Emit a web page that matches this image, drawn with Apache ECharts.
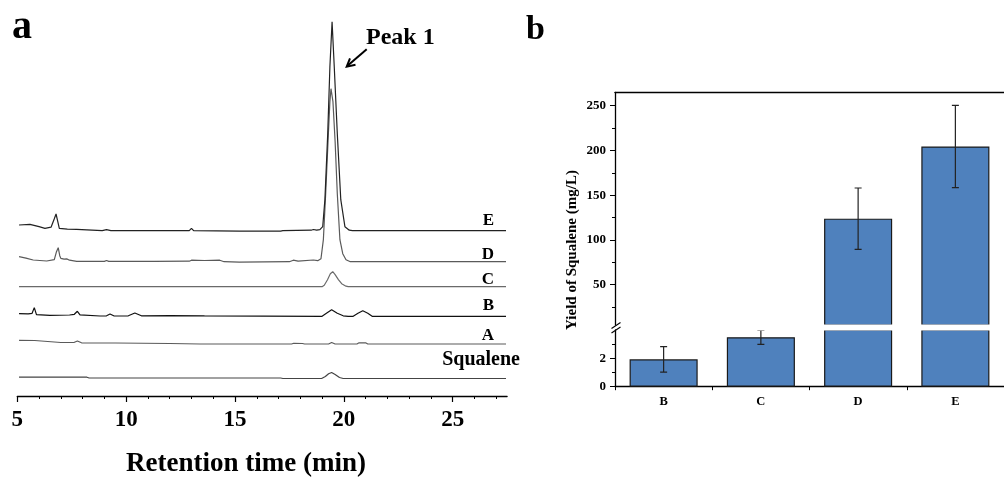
<!DOCTYPE html>
<html><head><meta charset="utf-8">
<script src="https://cdn.jsdelivr.net/npm/echarts@6/dist/echarts.min.js"></script>
<style>html,body{margin:0;padding:0;background:#fff}#c{width:1004px;height:477px}</style>
</head><body><div id="c"></div>
<script>
// ---------- Panel a data (retention time [min], detector signal [a.u.]) ----------
const xTickLabels = [5, 10, 15, 20, 25];
const xMinorTicks = [6,7,8,9,11,12,13,14,16,17,18,19,21,22,23,24,26,27];
const traceNames = ['Squalene', 'A', 'B', 'C', 'D', 'E'];
const traceSqualene = [[5.08,1.3],[8.2,1.3],[8.3,0.5],[17.1,0.5],[17.2,0],[18.98,0],[19.15,2],[19.3,4.8],[19.44,6],[19.6,4],[19.8,1],[19.97,0],[27.45,0]];
const traceA = [[5.08,3.7],[5.8,3.5],[6.4,2.5],[7.0,1.5],[7.6,1.5],[7.76,3],[7.95,1.2],[9.5,1],[12.0,0.5],[13.4,0],[14.2,0],[14.25,-0.5],[14.3,0],[17.6,0],[17.7,0.7],[18.1,0.5],[18.2,0],[19.3,0],[19.44,1.5],[19.6,0],[20.6,0],[20.7,1.2],[21.0,1.2],[21.1,0],[27.45,0]];
const traceB = [[5.08,2.7],[5.5,2.5],[5.68,3],[5.78,8.7],[5.88,1.7],[6.5,1],[7.4,1.3],[7.62,2],[7.76,5],[7.88,1.5],[8.8,0.3],[9.1,0.5],[9.26,2.3],[9.45,0.3],[10.1,0.5],[10.4,3.3],[10.7,0.5],[12.0,0.7],[13.6,0.5],[13.65,0],[19.0,0],[19.2,3],[19.44,6.5],[19.7,3],[19.97,0.5],[20.2,0],[20.43,0],[20.65,3],[20.87,5.5],[21.1,3],[21.3,0],[27.45,0]];
const traceC = [[5.08,0],[19.0,0],[19.1,1.5],[19.25,7],[19.38,13],[19.49,15],[19.6,12],[19.75,7],[19.9,3],[20.1,0.5],[20.2,0],[27.45,0]];
const traceD = [[5.08,5],[5.4,3.5],[5.73,1.7],[6.35,0.7],[6.7,2],[6.8,10],[6.88,14],[6.95,6],[7.0,3.3],[7.15,2.5],[7.27,2.8],[7.4,1.5],[7.73,0.3],[9.0,0.3],[9.1,1.2],[9.2,0.3],[11.2,0.3],[11.24,-0.5],[11.3,0.3],[12.9,0.5],[13.0,1.5],[13.6,1.2],[14.3,1.5],[14.5,0],[15.2,-0.5],[17.5,0],[17.68,1.5],[17.9,0.5],[18.6,1.7],[18.8,1.0],[18.95,3],[19.06,22],[19.17,70],[19.29,128],[19.36,160],[19.41,173],[19.5,160],[19.6,120],[19.7,68],[19.82,22],[19.95,8],[20.1,2],[20.3,0],[27.45,0]];
const traceE = [[5.08,5.7],[5.58,6.3],[6.0,4],[6.27,2.3],[6.55,3.5],[6.7,12],[6.78,16.7],[6.86,9],[6.93,2.3],[7.3,1.6],[7.73,1.3],[8.9,0],[9.1,1],[9.3,0],[12.9,0],[13.0,2.4],[13.1,0],[15.2,-0.4],[17.1,-0.4],[17.2,0],[18.5,0.5],[18.6,1.2],[18.75,0.5],[18.9,1],[18.98,1.5],[19.03,4],[19.13,31],[19.26,97],[19.36,164],[19.46,209],[19.56,164],[19.70,97],[19.86,31],[20.05,4],[20.25,0.5],[20.4,0],[27.45,0]];

// ---------- Panel b data ----------
const categories = ['B', 'C', 'D', 'E'];
const yieldMean = [1.93, 3.49, 123.8, 204.5];
const yieldErr = [0.9, 0.5, 34.3, 46];
const upperTickLabels = [50, 100, 150, 200, 250];
const upperMinorTicks = [25, 75, 125, 175, 225];
const lowerTickLabels = [0, 2];
const lowerMinorTicks = [1, 3];

// ---------- layout / style (not data) ----------
const traceOffsets = [17.5, 52, 79.7, 109.3, 134.3, 165.3]; // vertical stacking of traces
const traceColors = ['#444', '#5a5a5a', '#111', '#6a6a6a', '#5a5a5a', '#222'];
const FONT = '"Liberation Serif","Times New Roman",serif';
const traces = [traceSqualene, traceA, traceB, traceC, traceD, traceE];

const LOWER_MAX = 4, UPPER_MIN = 5, UPPER_MAX = 265;
const gA = {left: 17.3, top: 16, width: 489.8, height: 380};
const gU = {left: 615, top: 92.3, width: 400, height: 232.7};
const gL = {left: 615, top: 330, width: 400, height: 56.7};

const chart = echarts.init(document.getElementById('c'), null, {renderer: 'canvas'});

const lineSeries = traces.map((tr, i) => ({
  type: 'line', xAxisIndex: 0, yAxisIndex: 0, showSymbol: false, silent: true,
  data: tr.map(p => [p[0], p[1] + traceOffsets[i]]),
  lineStyle: {color: traceColors[i], width: 1.2}, z: 2 + (i % 2)
}));

const barStyle = {color: '#4F81BD', borderColor: '#1a1a1a', borderWidth: 1.2};
const errAll = categories.map((c, i) => [i, yieldMean[i] - yieldErr[i], yieldMean[i] + yieldErr[i], yieldMean[i]]);
function errRender(params, api) {
  const x = api.value(0);
  const pLo = api.coord([x, api.value(1)]);
  const pHi = api.coord([x, api.value(2)]);
  const hw = 3.5;
  const st = {stroke: '#222', lineWidth: 1.2};
  return {type: 'group', children: [
    {type: 'line', shape: {x1: pLo[0], y1: pLo[1], x2: pHi[0], y2: pHi[1]}, style: st},
    {type: 'line', shape: {x1: pLo[0]-hw, y1: pLo[1], x2: pLo[0]+hw, y2: pLo[1]}, style: st},
    {type: 'line', shape: {x1: pHi[0]-hw, y1: pHi[1], x2: pHi[0]+hw, y2: pHi[1]}, style: st}
  ]};
}

const labelRightX = 494;
const traceLabelGraphics = [
  {x: 520, y: 359.4, s: 20},
  {x: labelRightX, y: 336.1, s: 17},
  {x: labelRightX, y: 306.1, s: 17},
  {x: labelRightX, y: 279.7, s: 17},
  {x: labelRightX, y: 254.9, s: 17},
  {x: labelRightX, y: 220.4, s: 17}
].map((o, i) => ({type: 'text', x: o.x, y: o.y, style: {text: traceNames[i], font: 'bold ' + o.s + 'px ' + FONT, fill: '#000', align: 'right', verticalAlign: 'middle'}}));

const axisTextStyle = (size) => ({color: '#000', fontFamily: FONT, fontWeight: 'bold', fontSize: size});

chart.setOption({
  animation: false,
  backgroundColor: '#fff',
  grid: [
    Object.assign({}, gA),
    Object.assign({}, gU),
    Object.assign({}, gL)
  ],
  xAxis: [
    {type: 'value', gridIndex: 0, min: 5, max: 27.5, position: 'bottom',
      axisLine: {show: true, lineStyle: {color: '#000', width: 1.3}},
      axisTick: {show: true, customValues: xTickLabels, length: 6, lineStyle: {color: '#000', width: 1.2}},
      axisLabel: {customValues: xTickLabels, margin: 13, ...axisTextStyle(23)},
      splitLine: {show: false}},
    {type: 'value', gridIndex: 0, min: 5, max: 27.5, position: 'bottom',
      axisLine: {show: false}, axisLabel: {show: false},
      axisTick: {show: true, customValues: xMinorTicks, length: 3, lineStyle: {color: '#000', width: 1}},
      splitLine: {show: false}},
    {type: 'category', gridIndex: 1, data: categories, position: 'top',
      axisLine: {show: true, lineStyle: {color: '#000', width: 1.3}},
      axisTick: {show: false}, axisLabel: {show: false}, splitLine: {show: false}},
    {type: 'category', gridIndex: 2, data: categories, position: 'bottom',
      axisLine: {show: true, lineStyle: {color: '#000', width: 1.3}},
      axisTick: {show: true, alignWithLabel: false, length: 3.5, lineStyle: {color: '#000'}},
      axisLabel: {margin: 9, ...axisTextStyle(12.5)}, splitLine: {show: false}}
  ],
  yAxis: [
    {type: 'value', gridIndex: 0, min: 0, max: 380, show: false, splitLine: {show: false}},
    {type: 'value', gridIndex: 1, min: UPPER_MIN, max: UPPER_MAX, position: 'left',
      axisLine: {show: true, lineStyle: {color: '#000', width: 1.3}},
      axisTick: {show: true, customValues: upperTickLabels, length: 5, lineStyle: {color: '#000'}},
      axisLabel: {customValues: upperTickLabels, margin: 9, ...axisTextStyle(13)},
      splitLine: {show: false}},
    {type: 'value', gridIndex: 1, min: UPPER_MIN, max: UPPER_MAX, position: 'left',
      axisLine: {show: false}, axisLabel: {show: false},
      axisTick: {show: true, customValues: upperMinorTicks, length: 3, lineStyle: {color: '#000'}},
      splitLine: {show: false}},
    {type: 'value', gridIndex: 2, min: 0, max: LOWER_MAX, position: 'left',
      axisLine: {show: true, lineStyle: {color: '#000', width: 1.3}},
      axisTick: {show: true, customValues: lowerTickLabels, length: 5, lineStyle: {color: '#000'}},
      axisLabel: {customValues: lowerTickLabels, margin: 9, ...axisTextStyle(13)},
      splitLine: {show: false}},
    {type: 'value', gridIndex: 2, min: 0, max: LOWER_MAX, position: 'left',
      axisLine: {show: false}, axisLabel: {show: false},
      axisTick: {show: true, customValues: lowerMinorTicks, length: 3, lineStyle: {color: '#000'}},
      splitLine: {show: false}}
  ],
  series: [
    ...lineSeries,
    {type: 'bar', xAxisIndex: 2, yAxisIndex: 1, data: yieldMean, barWidth: '70%', itemStyle: barStyle, clip: true, silent: true},
    {type: 'bar', xAxisIndex: 3, yAxisIndex: 3, data: yieldMean, barWidth: '70%', itemStyle: barStyle, clip: true, silent: true},
    {type: 'custom', xAxisIndex: 2, yAxisIndex: 1, clip: true, renderItem: errRender, z: 5,
      data: errAll.filter(d => d[3] > LOWER_MAX)},
    {type: 'custom', xAxisIndex: 3, yAxisIndex: 3, clip: true, renderItem: errRender, z: 5,
      data: errAll.filter(d => d[3] <= LOWER_MAX)}
  ],
  graphic: [
    {type: 'text', x: 12, y: 28.1, style: {text: 'a', font: 'bold 40px ' + FONT, fill: '#000', align: 'left', verticalAlign: 'middle'}},
    {type: 'text', x: 526, y: 29.8, style: {text: 'b', font: 'bold 34px ' + FONT, fill: '#000', align: 'left', verticalAlign: 'middle'}},
    {type: 'text', x: 366, y: 38, style: {text: 'Peak 1', font: 'bold 24px ' + FONT, fill: '#000', align: 'left', verticalAlign: 'middle'}},
    {type: 'line', shape: {x1: 366.7, y1: 49.3, x2: 347.5, y2: 65.8}, style: {stroke: '#000', lineWidth: 2}},
    {type: 'polyline', shape: {points: [[350, 58.3], [346.7, 66.7], [355.5, 64.8]]}, style: {stroke: '#000', lineWidth: 2, fill: null}},
    ...traceLabelGraphics,
    {type: 'text', x: 246, y: 464, style: {text: 'Retention time (min)', font: 'bold 27px ' + FONT, fill: '#000', align: 'center', verticalAlign: 'middle'}},
    {type: 'text', x: 572, y: 250, rotation: Math.PI / 2, style: {text: 'Yield of Squalene (mg/L)', font: 'bold 15px ' + FONT, fill: '#000', align: 'center', verticalAlign: 'middle'}},
    {type: 'rect', z: 100, shape: {x: 616, y: gU.top + gU.height - 0.5, width: 400, height: gL.top - gU.top - gU.height + 1}, style: {fill: '#fff'}},
    {type: 'line', z: 101, shape: {x1: 611.5, y1: 328.5, x2: 620.5, y2: 322.5}, style: {stroke: '#000', lineWidth: 1.2}},
    {type: 'line', z: 101, shape: {x1: 611.5, y1: 333, x2: 620.5, y2: 327}, style: {stroke: '#000', lineWidth: 1.2}}
  ]
});
</script></body></html>
